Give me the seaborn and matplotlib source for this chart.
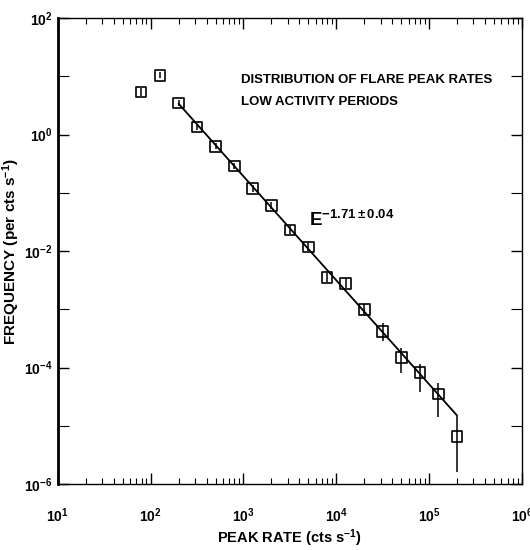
import numpy as np
import pandas as pd
import seaborn as sns
import matplotlib.pyplot as plt
from matplotlib.ticker import LogLocator, NullFormatter, FixedLocator

# peak rate bins (cts s^-1) and frequency values
peak_rate = [79, 126, 200, 316, 500, 794, 1259, 1995, 3162, 5012, 7943,
             12589, 19953, 31623, 50119, 79433, 125893, 199526]
frequency = [5.4, 10.5, 3.5, 1.35, 0.63, 0.29, 0.12, 0.061, 0.023, 0.0117,
             0.0035, 0.0028, 1.0e-3, 4.1e-4, 1.5e-4, 8.1e-5, 3.5e-5, 6.6e-6]
freq_low = [4.6, 9.2, 3.1, 1.2, 0.56, 0.26, 0.105, 0.053, 0.020, 0.0100,
            0.0029, 0.0023, 8.0e-4, 2.9e-4, 8.0e-5, 3.8e-5, 1.4e-5, 1.6e-6]
freq_high = [6.3, 12.0, 3.9, 1.5, 0.71, 0.33, 0.137, 0.070, 0.027, 0.0137,
             0.0042, 0.0034, 1.25e-3, 5.9e-4, 2.2e-4, 1.16e-4, 5.4e-5, 1.5e-5]

# power-law fit line as drawn
fit_x = [200, 199526]
fit_y = [3.4, 1.5e-5]

df = pd.DataFrame({"rate": peak_rate, "freq": frequency,
                   "lo": freq_low, "hi": freq_high})
fit = pd.DataFrame({"rate": fit_x, "freq": fit_y})

sns.set_theme(style="ticks")
fonts = ["Liberation Sans Narrow", "Liberation Sans", "DejaVu Sans"]
plt.rcParams["font.family"] = fonts
plt.rcParams["font.weight"] = "bold"
plt.rcParams["mathtext.fontset"] = "custom"
plt.rcParams["mathtext.rm"] = "Liberation Sans:bold"
plt.rcParams["mathtext.it"] = "Liberation Sans:bold"
plt.rcParams["mathtext.bf"] = "Liberation Sans:bold"
for key in ["text.color", "axes.labelcolor", "xtick.color", "ytick.color",
            "axes.edgecolor"]:
    plt.rcParams[key] = "black"

fig = plt.figure(figsize=(5.3, 5.5), dpi=100)
ax = fig.add_axes([0.109, 0.12, 0.876, 0.847])

# error bars
yerr = [df["freq"] - df["lo"], df["hi"] - df["freq"]]
ax.errorbar(df["rate"], df["freq"], yerr=yerr, fmt="none",
            ecolor="black", elinewidth=1.1, capsize=0)

# fit line (ends in the last error bar)
sns.lineplot(data=fit, x="rate", y="freq", ax=ax, color="black",
             linewidth=1.3, legend=False)

# open square markers
sns.scatterplot(data=df, x="rate", y="freq", ax=ax, marker="s", s=60,
                facecolor="none", edgecolor="black", linewidth=1.2,
                zorder=3, legend=False)

ax.set_xscale("log")
ax.set_yscale("log")
ax.set_xlim(10, 1e6)
ax.set_ylim(1e-6, 1e2)

ax.xaxis.set_major_locator(LogLocator(base=10, numticks=10))
ax.xaxis.set_minor_locator(LogLocator(base=10, subs=np.arange(2, 10), numticks=20))
ax.xaxis.set_minor_formatter(NullFormatter())
ax.yaxis.set_major_locator(FixedLocator([1e-6, 1e-4, 1e-2, 1e0, 1e2]))
ax.yaxis.set_minor_locator(FixedLocator([1e-5, 1e-3, 1e-1, 1e1]))
ax.yaxis.set_minor_formatter(NullFormatter())

ax.tick_params(which="both", direction="in", top=True, right=True,
               labelsize=10, color="black")
ax.tick_params(which="major", length=8, width=1)
ax.tick_params(axis="x", which="major", pad=16)
ax.tick_params(axis="y", which="major", pad=4)
ax.tick_params(which="minor", length=4, width=0.8)
ax.tick_params(axis="y", which="minor", length=8)
for lab in ax.get_xticklabels() + ax.get_yticklabels():
    lab.set_fontweight("bold")

for side in ["top", "right", "bottom"]:
    ax.spines[side].set_linewidth(1.0)
ax.spines["left"].set_linewidth(2.0)

ax.set_xlabel("PEAK RATE (cts s$^{-1}$)", fontsize=10.5, fontweight="bold",
              labelpad=2)
ax.set_ylabel("FREQUENCY (per cts s$^{-1}$)", fontsize=11, fontweight="bold")
ax.yaxis.set_label_coords(-0.077, 0.5)

ax.text(940, 8.6, "DISTRIBUTION OF FLARE PEAK RATES", fontsize=9.5,
        fontweight="bold", ha="left", va="center")
ax.text(940, 3.6, "LOW ACTIVITY PERIODS", fontsize=9.5,
        fontweight="bold", ha="left", va="center")
ax.text(5.1e3, 0.027, r"E$^{-1.71 \pm 0.04}$", fontsize=13.5,
        fontweight="bold", ha="left", va="baseline")

fig.savefig("out.png", dpi=100, facecolor="white")
